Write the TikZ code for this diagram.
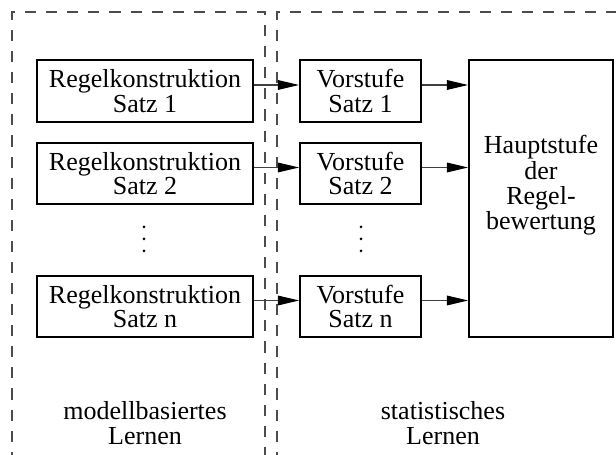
\documentclass[tikz,border=0pt]{standalone}
\usepackage{fontspec}
\setmainfont{Liberation Serif}
\usetikzlibrary{arrows.meta}

\begin{document}
\begin{tikzpicture}[
        stage/.style={draw,line width=1.1pt,align=center,minimum height=1.23cm,inner sep=0pt},
        regelbox/.style={stage,minimum width=4.32cm},
        vorbox/.style={stage,minimum width=2.42cm},
        zone/.style={draw=black!70,line width=0.6pt,dash pattern=on 6.3pt off 5.7pt},
        flow/.style={draw=black!75,line width=0.6pt,-{Triangle[length=12pt,width=5.5pt,color=black]}},
        caption/.style={align=center},
        font=\fontsize{14.8}{13.9}\selectfont
    ]

    \useasboundingbox (0,0) rectangle (12.32,9.1);
    \clip (0,0) rectangle (12.32,9.1);

    % the two learning areas
    \draw[zone] (0.24,-1) rectangle (5.30,8.86);
    \draw[zone] (5.54,-1) rectangle (13,8.86);

    \node[stage,minimum width=2.88cm,minimum height=5.54cm] (haupt) at (10.82,5.13) {};
    \node[caption,font=\fontsize{14.8}{14.4}\selectfont] (hauptText) at ([yshift=0.26cm]haupt.center) {Hauptstufe\\der\\Regel-\\bewertung};

    \foreach \k/\yy in {1/7.28, 2/5.63, n/2.97} {
        \node[regelbox] (regel\k) at (2.90,\yy) {Regelkonstruktion\\Satz \k};
        \node[vorbox] (vor\k) at (7.21,\yy) {Vorstufe\\Satz \k};
        \coordinate (in\k) at ([yshift=0.12cm]regel\k.east);
        \coordinate (out\k) at ([yshift=0.12cm]vor\k.east);
        \draw[flow] (in\k) -- (in\k -| vor\k.west);
        \draw[flow] (out\k) -- (out\k -| haupt.west);
    }

    % dots between Satz 2 and Satz n
    \foreach \d in {0,1,2} {
        \fill (2.88,4.56-\d*0.24) circle (0.03);
        \fill (7.22,4.56-\d*0.24) circle (0.03);
    }

    \node[caption] (modell) at (2.90,0.64) {modellbasiertes\\Lernen};
    \node[caption] (statistik) at (8.86,0.64) {statistisches\\Lernen};

\end{tikzpicture}
\end{document}
